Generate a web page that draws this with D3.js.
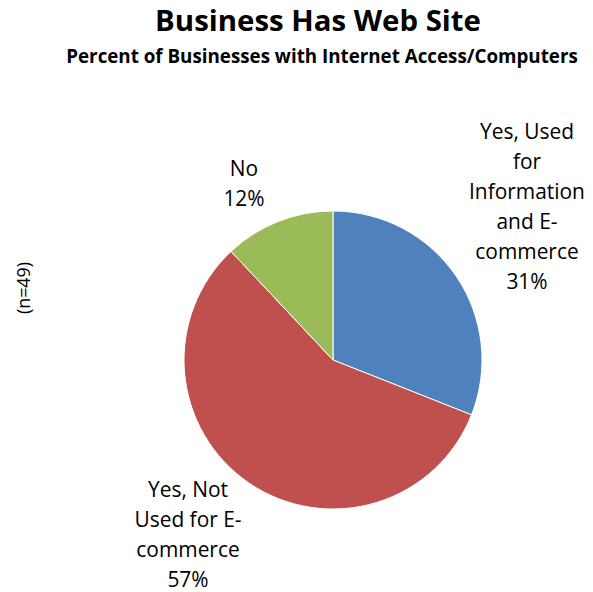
<!DOCTYPE html>
<html>
<head>
<meta charset="utf-8">
<script src="https://cdn.jsdelivr.net/npm/d3@7"></script>
<style>
  html, body { margin: 0; padding: 0; background: #fff; }
  svg { display: block; }
  text { font-family: "Open Sans", Lato, sans-serif; fill: #000; }
</style>
</head>
<body>
<svg id="chart" width="593" height="592"></svg>
<script>
// Share of businesses with a web site, by use
const categories = ["Yes, Used for Information and E-commerce", "Yes, Not Used for E-commerce", "No"];
const values = [31, 57, 12];
const colors = ["#4F81BD", "#C0504D", "#9BBB59"];
// Label lines as wrapped in the chart
const labelLines = [
  ["Yes, Used", "for", "Information", "and E-", "commerce", "31%"],
  ["Yes, Not", "Used for E-", "commerce", "57%"],
  ["No", "12%"]
];

const svg = d3.select("#chart");
const cx = 333, cy = 360, r = 149;

// Shrink or grow a text's font size so it spans the given width
function fitWidth(sel, width) {
  const fs = +sel.attr("font-size");
  const w = sel.node().getComputedTextLength();
  sel.attr("font-size", (fs * width / w).toFixed(2));
}

const title = svg.append("text")
  .attr("x", 318).attr("y", 31)
  .attr("text-anchor", "middle")
  .attr("font-size", 28).attr("font-weight", "bold")
  .text("Business Has Web Site");
fitWidth(title, 326);

const subtitle = svg.append("text")
  .attr("x", 322).attr("y", 63)
  .attr("text-anchor", "middle")
  .attr("font-size", 16).attr("font-weight", "bold")
  .text("Percent of Businesses with Internet Access/Computers");
fitWidth(subtitle, 512);

const nLabel = svg.append("text")
  .attr("transform", "translate(30,288) rotate(-90)")
  .attr("text-anchor", "middle")
  .attr("font-size", 14)
  .text("(n=49)");
fitWidth(nLabel, 52);

const pie = d3.pie().sort(null).value(d => d)(values);
const arc = d3.arc().innerRadius(0).outerRadius(r);

const g = svg.append("g").attr("transform", `translate(${cx},${cy})`);
g.selectAll("path")
  .data(pie)
  .join("path")
  .attr("d", arc)
  .attr("fill", (d, i) => colors[i])
  .attr("stroke", "#fff")
  .attr("stroke-width", 1);

// Slice-label size taken from the widest wrapped line
const probe = svg.append("text").attr("font-size", 20).text("Information");
fitWidth(probe, 116);
const labelSize = +probe.attr("font-size");
probe.remove();

// Label anchors: centre x and first-line baseline, placed outside each slice
const labelPos = [
  { x: 527, y: 139 },
  { x: 188, y: 497 },
  { x: 244, y: 176 }
];

pie.forEach((d, i) => {
  const t = svg.append("text")
    .attr("text-anchor", "middle")
    .attr("font-size", labelSize)
    .attr("aria-label", categories[i]);
  labelLines[i].forEach((line, k) => {
    t.append("tspan")
      .attr("x", labelPos[i].x)
      .attr("y", labelPos[i].y + k * 30)
      .text(line);
  });
});
</script>
</body>
</html>
